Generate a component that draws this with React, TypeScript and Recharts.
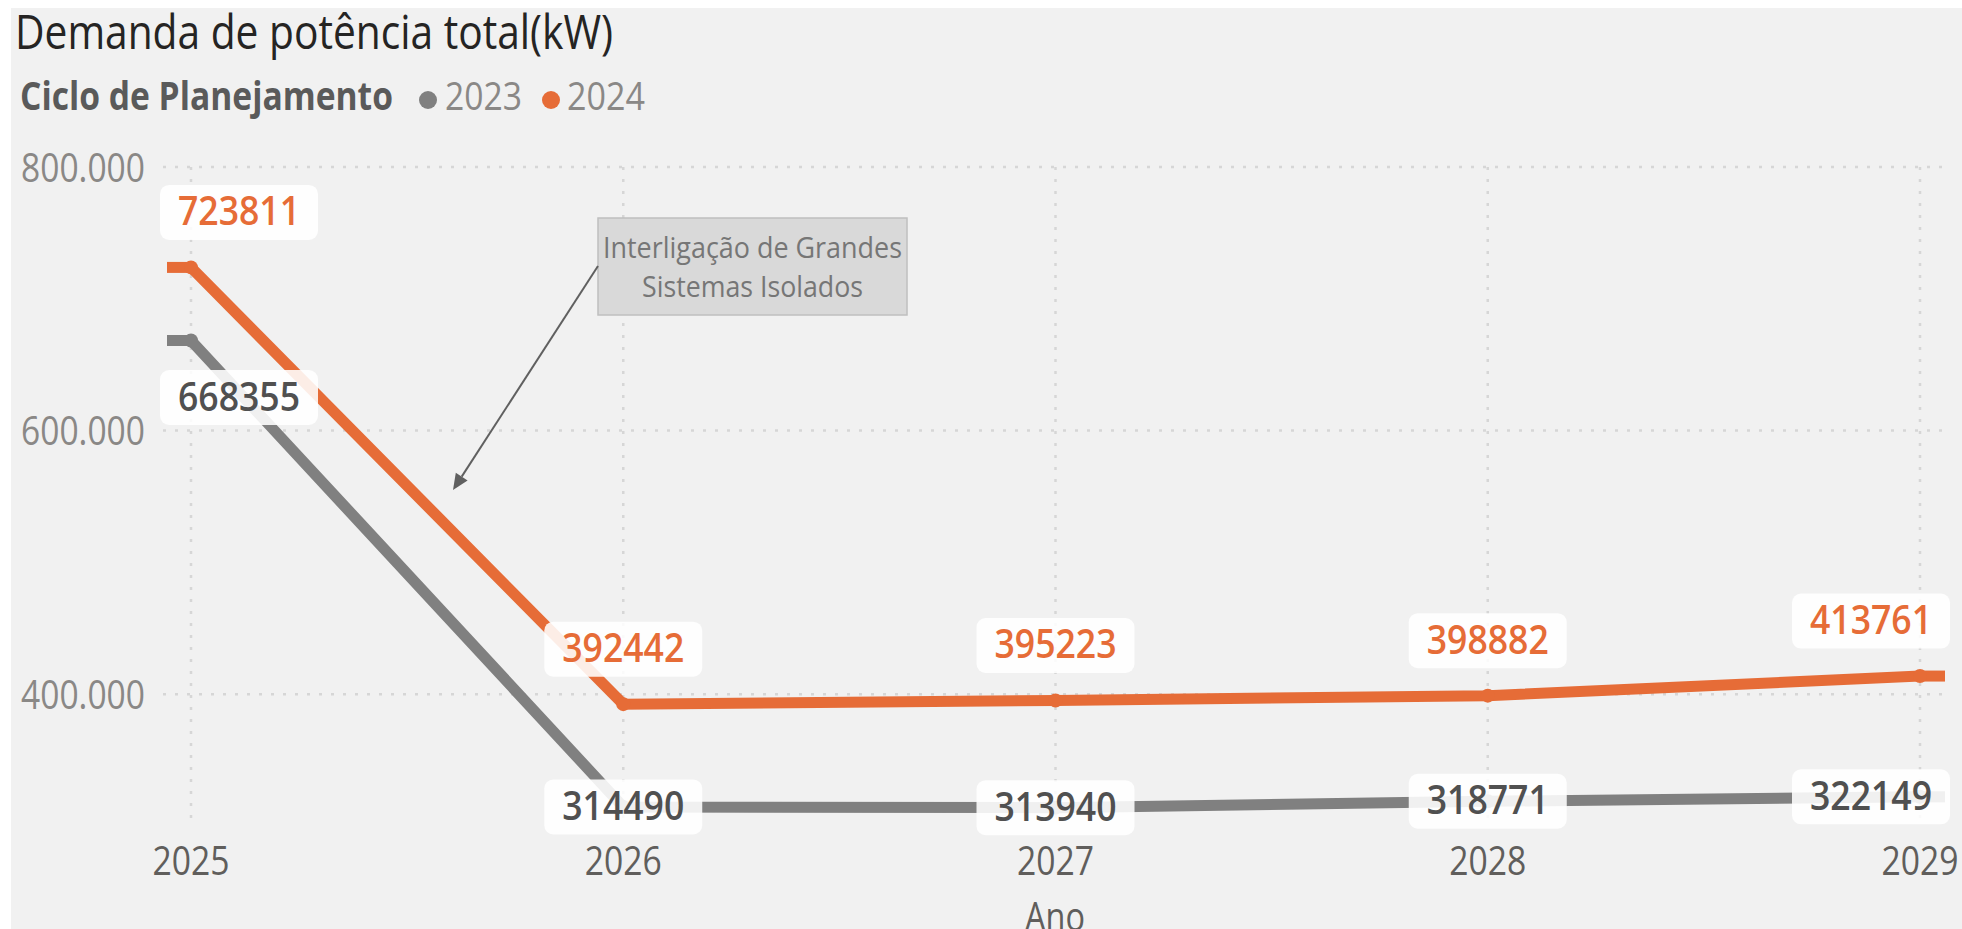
import { LineChart, Line, XAxis, YAxis, CartesianGrid, LabelList } from "recharts"

// dados
const anos = ["2025", "2026", "2027", "2028", "2029"]
const ciclo2023 = [668355, 314490, 313940, 318771, 322149]
const ciclo2024 = [723811, 392442, 395223, 398882, 413761]
const yTicks = [400000, 600000, 800000]
const yDomain = [300000, 800000]

const data = anos.map((ano, i) => ({ ano, c2023: ciclo2023[i], c2024: ciclo2024[i] }))

const FONT = '"Open Sans", "Noto Sans", sans-serif'
const ORANGE = "#E66C37"
const GRAY = "#808080"
const PLOT_LEFT = 163
const PLOT_RIGHT = 1947
const BOX_W = 158
const BOX_H = 55

const fmt = (v: number) => String(v).replace(/\B(?=(\d{3})+(?!\d))/g, ".")

function YTick(props: any) {
  const { y, payload } = props
  return (
    <text x={21} y={y} dy={14.5} fontSize={41} fill="#8a8886" fontFamily={FONT}
      textLength={124} lengthAdjust="spacingAndGlyphs">
      {fmt(payload.value)}
    </text>
  )
}

function XTick(props: any) {
  const { x, y, payload } = props
  return (
    <text x={x} y={y} dy={49} fontSize={41} fill="#605e5c" fontFamily={FONT} textAnchor="middle"
      textLength={77} lengthAdjust="spacingAndGlyphs">
      {payload.value}
    </text>
  )
}

function makeDot(color: string, n: number) {
  return (props: any) => {
    const { cx, cy, index } = props
    return (
      <g key={index}>
        {index === 0 && <line x1={cx - 24} x2={cx} y1={cy} y2={cy} stroke={color} strokeWidth={11} />}
        {index === n - 1 && <line x1={cx} x2={cx + 25} y1={cy} y2={cy} stroke={color} strokeWidth={11} />}
        <circle cx={cx} cy={cy} r={7} fill={color} />
      </g>
    )
  }
}

function makeLabel(textColor: string, offset: (i: number) => number) {
  return (props: any) => {
    const x = props.x ?? props.viewBox?.x
    const y = props.y ?? props.viewBox?.y
    const { value, index } = props
    const cx = Math.min(Math.max(x, PLOT_LEFT - 3 + BOX_W / 2), PLOT_RIGHT + 3 - BOX_W / 2)
    const cy = y + offset(index)
    return (
      <g key={index}>
        <rect x={cx - BOX_W / 2} y={cy - BOX_H / 2} width={BOX_W} height={BOX_H} rx={9}
          fill="#ffffff" fillOpacity={0.88} />
        <text x={cx} y={cy + 13} textAnchor="middle" fontSize={39} fontWeight={600}
          fill={textColor} fontFamily={FONT} textLength={122} lengthAdjust="spacingAndGlyphs">
          {value}
        </text>
      </g>
    )
  }
}

export default function App() {
  return (
    <div style={{ position: "relative", width: 1962, height: 929, background: "#fff", overflow: "hidden" }}>
      <style>{"body{margin:0}"}</style>
      <div style={{ position: "absolute", left: 11, top: 8, width: 1951, height: 921, background: "#f1f1f1" }} />
      <div style={{ position: "absolute", left: 0, top: 0 }}>
        <LineChart width={1962} height={929} data={data} margin={{ top: 167, right: 15, bottom: 0, left: 0 }}>
          <CartesianGrid stroke="#d6d6d6" strokeWidth={2.5} strokeDasharray="3 9"
            horizontalValues={yTicks} verticalValues={anos} />
          <XAxis dataKey="ano" height={103} axisLine={false} tickLine={false} tickSize={0} tickMargin={0}
            padding={{ left: 28, right: 27 }} tick={<XTick />} interval={0}
            label={{
              value: "Ano",
              content: (p: any) => (
                <text x={p.viewBox.x + p.viewBox.width / 2} y={p.viewBox.y + p.viewBox.height + 2}
                  textAnchor="middle" fontSize={41} fill="#605e5c" fontFamily={FONT}
                  textLength={60} lengthAdjust="spacingAndGlyphs">Ano</text>
              ),
            }} />
          <YAxis width={163} domain={yDomain} ticks={yTicks} axisLine={false} tickLine={false} tick={<YTick />} />
          <Line dataKey="c2023" stroke={GRAY} strokeWidth={11} dot={makeDot(GRAY, data.length)}
            activeDot={false} isAnimationActive={false} />
          <Line dataKey="c2024" stroke={ORANGE} strokeWidth={11} dot={makeDot(ORANGE, data.length)}
            activeDot={false} isAnimationActive={false} />
          <Line dataKey="c2023" stroke="none" dot={false} activeDot={false} isAnimationActive={false}>
            <LabelList dataKey="c2023" content={makeLabel("#505050", (i) => (i === 0 ? 57 : 0))} />
          </Line>
          <Line dataKey="c2024" stroke="none" dot={false} activeDot={false} isAnimationActive={false}>
            <LabelList dataKey="c2024" content={makeLabel(ORANGE, () => -55)} />
          </Line>
        </LineChart>
      </div>
      <svg width={1962} height={929} style={{ position: "absolute", left: 0, top: 0, pointerEvents: "none" }}>
        <text x={15} y={49} fontSize={47} fill="#252423" fontFamily={FONT}
          textLength={598} lengthAdjust="spacingAndGlyphs">Demanda de potência total(kW)</text>
        <text x={20} y={110} fontSize={39} fontWeight={700} fill="#5a5a5a" fontFamily={FONT}
          textLength={373} lengthAdjust="spacingAndGlyphs">Ciclo de Planejamento</text>
        <circle cx={428} cy={100} r={9} fill={GRAY} />
        <text x={445} y={110} fontSize={39} fill="#8a8886" fontFamily={FONT}
          textLength={77} lengthAdjust="spacingAndGlyphs">2023</text>
        <circle cx={551} cy={100} r={9} fill={ORANGE} />
        <text x={567} y={110} fontSize={39} fill="#8a8886" fontFamily={FONT}
          textLength={78} lengthAdjust="spacingAndGlyphs">2024</text>

        <rect x={598} y={218} width={309} height={97} fill="#d9d9d9" stroke="#bfbfbf" strokeWidth={1.5} />
        <text x={752.5} y={258} textAnchor="middle" fontSize={29} fill="#767676" fontFamily={FONT}
          textLength={299} lengthAdjust="spacingAndGlyphs">Interligação de Grandes</text>
        <text x={752.5} y={297} textAnchor="middle" fontSize={29} fill="#767676" fontFamily={FONT}
          textLength={221} lengthAdjust="spacingAndGlyphs">Sistemas Isolados</text>
        <line x1={598} y1={266} x2={461.7} y2={476.6} stroke="#606060" strokeWidth={2} />
        <polygon points="453,490 467.6,480.4 455.8,472.8" fill="#606060" />
      </svg>
    </div>
  )
}
